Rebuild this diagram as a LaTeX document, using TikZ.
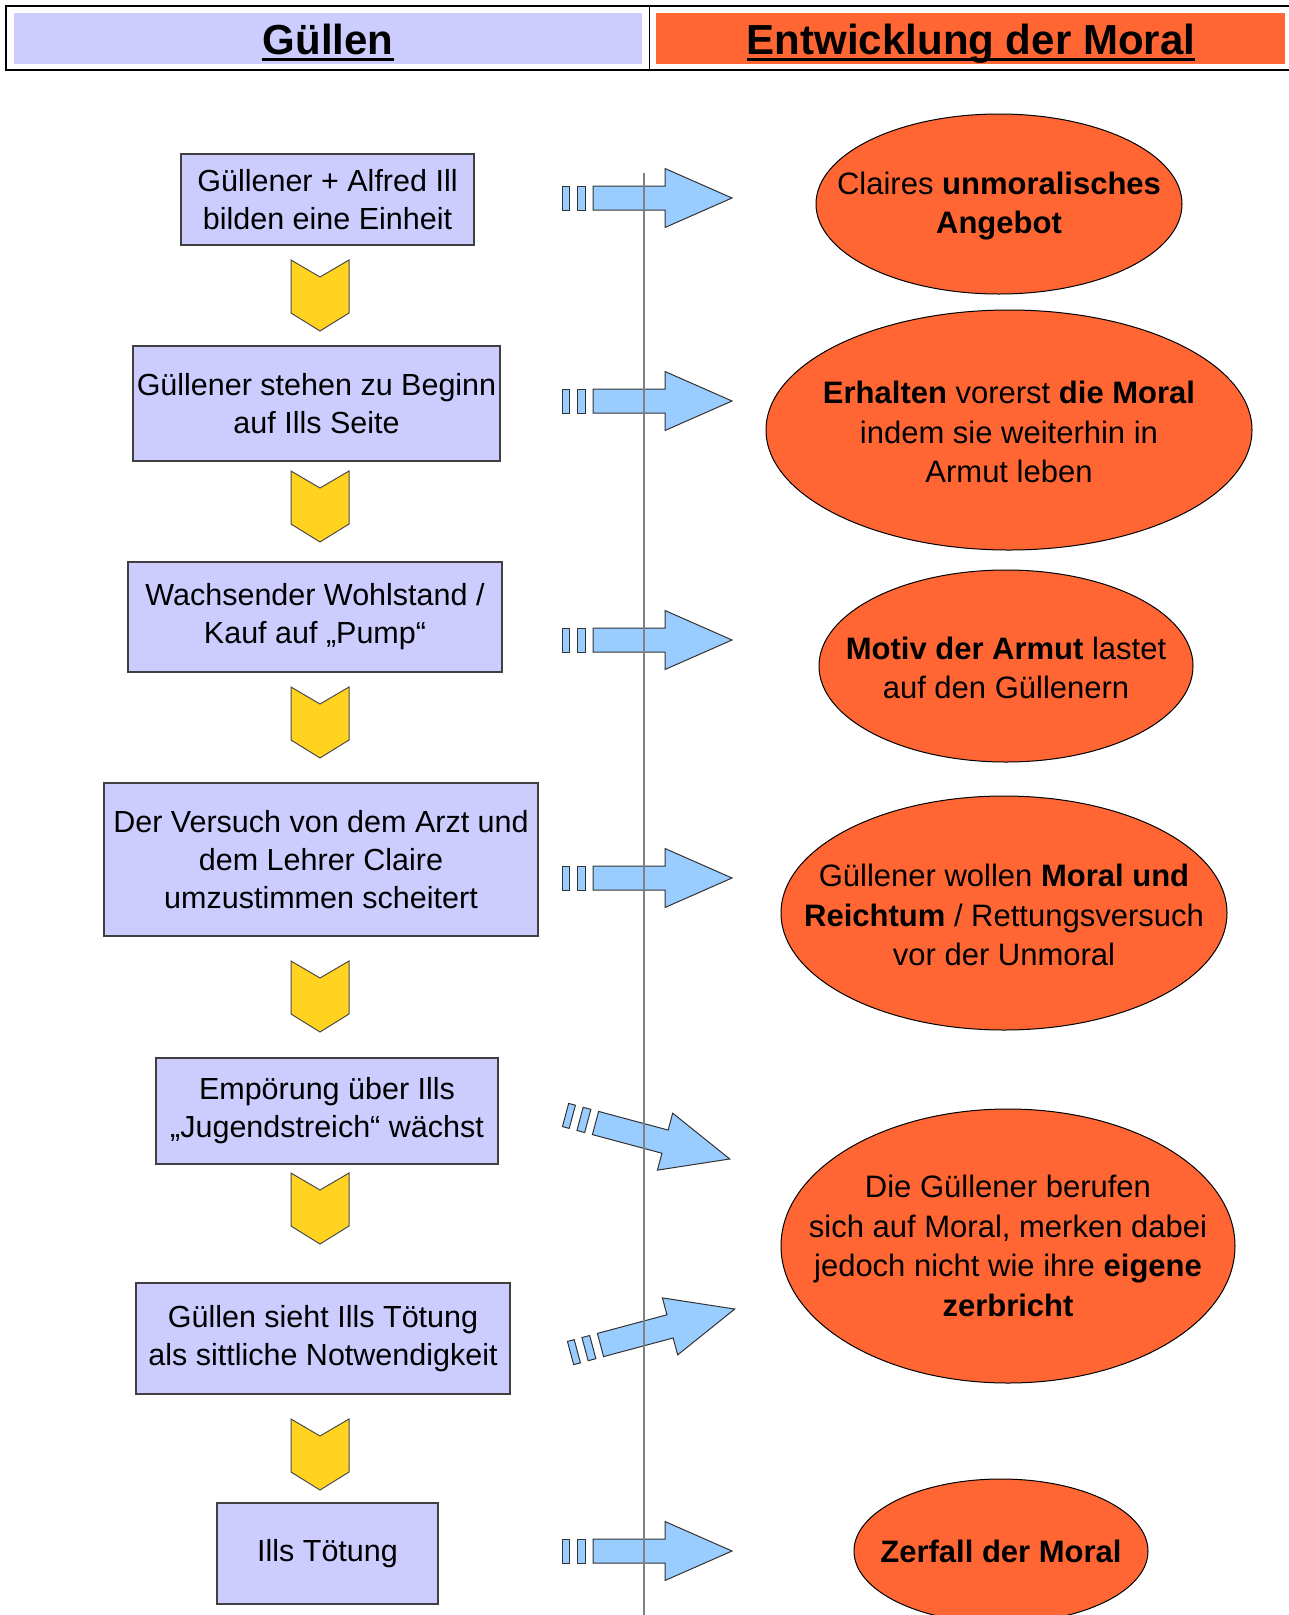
\documentclass[tikz,border=0pt]{standalone}
\usepackage{fontspec}
\setmainfont{Liberation Sans}
\usepackage{tikz}
\usetikzlibrary{shapes.geometric}

\definecolor{boxblue}{HTML}{CCCCFF}
\definecolor{moralred}{HTML}{FF6633}
\definecolor{chevyellow}{HTML}{FFD320}
\definecolor{arrowblue}{HTML}{99CCFF}

\begin{document}
\begin{tikzpicture}[
    x=1pt, y=-1pt, % pixel grid of the reference
    node_box/.style = {rectangle, draw=black!75, line width=1.2pt, fill=boxblue, inner sep=0pt, align=center, font=\fontsize{30.5}{38}\selectfont},
    node_moral/.style = {ellipse, draw=black, line width=1pt, fill=moralred, inner sep=0pt},
    moral_text/.style = {inner sep=0pt, align=center, font=\fontsize{31}{39.5}\selectfont},
    head_text/.style = {inner sep=0pt, anchor=base, font=\fontsize{42}{50}\selectfont\bfseries},
    chevron/.pic = {\draw[draw=black!70, line width=1pt, fill=chevyellow] (-29,0) -- (0,17) -- (29,0) -- (29,53) -- (0,71) -- (-29,53) -- cycle;},
    block_arrow/.pic = {
        \draw[draw=black!80, line width=1pt, fill=arrowblue] (-31,-12) rectangle (-24,12);
        \draw[draw=black!80, line width=1pt, fill=arrowblue] (-16,-12) rectangle (-8,12);
        \draw[draw=black!80, line width=1pt, fill=arrowblue] (0,-12) -- (72,-12) -- (72,-29.5) -- (139,0) -- (72,29.5) -- (72,12) -- (0,12) -- cycle;}
    ]
    \useasboundingbox[fill=white] (0,0) rectangle (1289,1615);
    \clip (0,0) rectangle (1289,1615);

    % header
    \fill[boxblue] (14,13) rectangle (642,64);
    \fill[moralred] (656,13) rectangle (1285,64);
    \draw[line width=1.2pt] (6,6) rectangle (1295,70);
    \draw[line width=1pt] (649,6) -- (649,70);
    \node[head_text] (head_l) at (328,54) {Güllen};
    \node[head_text] (head_r) at (971,54) {Entwicklung der Moral};
    \draw[line width=3pt] ([yshift=-5pt]head_l.base west) -- ([yshift=-5pt]head_l.base east);
    \draw[line width=3pt] ([yshift=-5pt]head_r.base west) -- ([yshift=-5pt]head_r.base east);

    % left column
    \node[node_box, minimum width=293, minimum height=91] (b1) at (327.5,199.5) {Güllener + Alfred Ill\\bilden eine Einheit};
    \node[node_box, minimum width=367, minimum height=115] (b2) at (316.5,403.5) {Güllener stehen zu Beginn\\auf Ills Seite};
    \node[node_box, minimum width=374, minimum height=110] (b3) at (315,617) {Wachsender Wohlstand /\\Kauf auf „Pump“};
    \node[node_box, minimum width=434, minimum height=153] (b4) at (321,859.5) {Der Versuch von dem Arzt und\\dem Lehrer Claire\\umzustimmen scheitert};
    \node[node_box, minimum width=342, minimum height=106] (b5) at (327,1111) {Empörung über Ills\\„Jugendstreich“ wächst};
    \node[node_box, minimum width=374, minimum height=111] (b6) at (323,1338.5) {Güllen sieht Ills Tötung\\als sittliche Notwendigkeit};
    \node[node_box, minimum width=221, minimum height=101] (b7) at (327.5,1553.5) {Ills Tötung};

    \pic at (320,260) {chevron};
    \pic at (320,471) {chevron};
    \pic at (320,687) {chevron};
    \pic at (320,961) {chevron};
    \pic at (320,1173) {chevron};
    \pic at (320,1419) {chevron};

    % arrows to the right column
    \pic at (593,198) {block_arrow};
    \pic at (593,401) {block_arrow};
    \pic at (593,640) {block_arrow};
    \pic at (593,878) {block_arrow};
    \pic[rotate=-15] at (595.5,1123) {block_arrow};
    \pic[rotate=15] at (600.5,1345) {block_arrow};
    \pic at (593,1551) {block_arrow};

    \draw[draw=black!50, line width=2pt] (644,173) -- (644,1615);

    % right column
    \node[node_moral, minimum width=366, minimum height=180] (e1) at (999,204) {};
    \node[node_moral, minimum width=486, minimum height=240] (e2) at (1009,430) {};
    \node[node_moral, minimum width=374, minimum height=192] (e3) at (1006,666) {};
    \node[node_moral, minimum width=446, minimum height=234] (e4) at (1004,913) {};
    \node[node_moral, minimum width=454, minimum height=274] (e5) at (1008,1246) {};
    \node[node_moral, minimum width=294, minimum height=144] (e6) at (1001,1551) {};

    \node[moral_text] (t1) at ([yshift=-2pt]e1.center) {Claires \textbf{unmoralisches}\\\textbf{Angebot}};
    \node[moral_text] (t2) at ([yshift=-2pt]e2.center) {\textbf{Erhalten} vorerst \textbf{die Moral}\\indem sie weiterhin in\\Armut leben};
    \node[moral_text] (t3) at ([yshift=-2pt]e3.center) {\textbf{Motiv der Armut} lastet\\auf den Güllenern};
    \node[moral_text] (t4) at ([yshift=-2pt]e4.center) {Güllener wollen \textbf{Moral und}\\\textbf{Reichtum} / Rettungsversuch\\vor der Unmoral};
    \node[moral_text] (t5) at (e5) {Die Güllener berufen\\sich auf Moral, merken dabei\\jedoch nicht wie ihre \textbf{eigene}\\\textbf{zerbricht}};
    \node[moral_text] (t6) at (e6) {\textbf{Zerfall der Moral}};
\end{tikzpicture}
\end{document}
